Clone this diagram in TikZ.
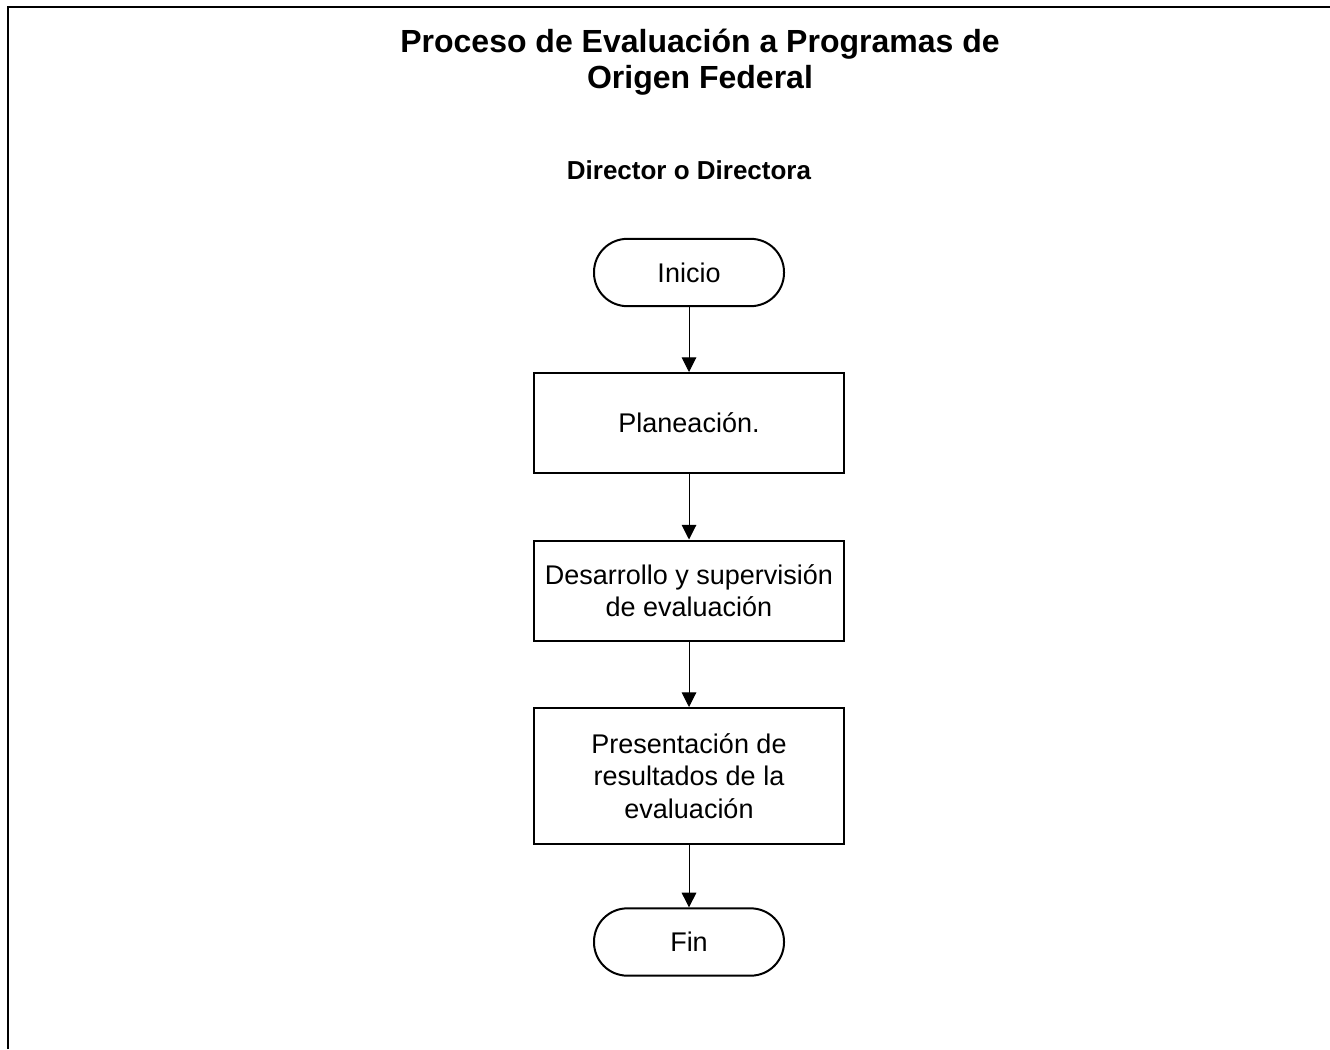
\documentclass[tikz,border=0pt]{standalone}
\usepackage{fontspec}
\setmainfont{Liberation Sans}
\usetikzlibrary{arrows.meta}
\begin{document}
\begin{tikzpicture}[x=0.75pt,y=-0.75pt,
  bodytext/.style={font=\fontsize{20.25pt}{24.3pt}\selectfont, align=center},
  procbox/.style={draw, line width=1.5pt, rectangle, minimum width=232.5pt, inner sep=0pt, bodytext},
  termbox/.style={draw, line width=1.5pt, rectangle, rounded corners=25pt, minimum width=142.5pt, minimum height=50.5pt, inner sep=0pt, bodytext},
  flow/.style={line width=0.75pt, -{Triangle[width=11pt,length=11pt]}}
]
\useasboundingbox (0,0) rectangle (1330,1049);
\draw[line width=1.5pt] (8,1049) -- (8,7) -- (1330,7);
\node[font=\fontsize{24pt}{27pt}\selectfont\bfseries, align=center] (title) at (700,62) {Proceso de Evaluación a Programas de\\Origen Federal};
\node[font=\fontsize{19.5pt}{24pt}\selectfont\bfseries] (role) at (689,170) {Director o Directora};
\node[termbox] (inicio) at (689,272.5) {Inicio};
\node[procbox, minimum height=75pt] (plan) at (689,423) {Planeación.};
\node[procbox, minimum height=75pt] (desa) at (689,590.5) {Desarrollo y supervisión\\de evaluación};
\node[procbox, minimum height=102pt] (pres) at (689,776) {Presentación de\\resultados de la\\evaluación};
\node[termbox] (fin) at (689,942) {Fin};
\draw[flow] (inicio) -- (plan);
\draw[flow] (plan) -- (desa);
\draw[flow] (desa) -- (pres);
\draw[flow] (pres) -- (fin);
\end{tikzpicture}
\end{document}
